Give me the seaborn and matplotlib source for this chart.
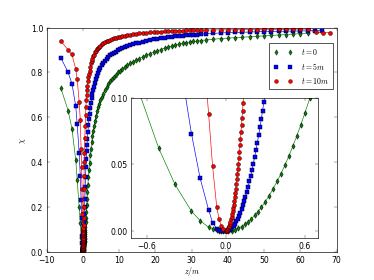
import matplotlib
matplotlib.use("Agg")
import matplotlib.pyplot as plt
import seaborn as sns
from matplotlib.lines import Line2D

# shared negative-z grid
z_neg = [-6.1, -4.1, -3.05, -2.0, -1.6, -1.05, -0.75, -0.51, -0.385, -0.26, -0.195,
         -0.13, -0.10, -0.068, -0.05, -0.035, -0.02]
chi_neg_t0 = [0.73, 0.63, 0.55, 0.41, 0.32, 0.20, 0.13, 0.0625, 0.035, 0.015, 0.008,
              0.003, 0.002, 0.001, 0.0005, 0.0003, 0.0001]
chi_neg_t5 = [0.865, 0.80, 0.75, 0.65, 0.57, 0.44, 0.34, 0.23, 0.15, 0.073, 0.040,
              0.016, 0.0065, 0.002, 0.001, 0.0005, 0.0002]
chi_neg_t10 = [0.94, 0.90, 0.88, 0.815, 0.77, 0.67, 0.59, 0.46, 0.38, 0.28, 0.17,
               0.088, 0.049, 0.018, 0.009, 0.004, 0.0015]

# fine grids near the minimum (differ per series)
z_in_t0 = [0, 0.02, 0.045, 0.07, 0.095, 0.12, 0.145, 0.17, 0.195, 0.22,
           0.245, 0.27, 0.30, 0.33, 0.36, 0.39, 0.42, 0.45, 0.48, 0.51,
           0.54, 0.57, 0.60, 0.64, 0.68, 0.75]
chi_in_t0 = [0, 0.0001, 0.0005, 0.0012, 0.0022, 0.0035, 0.0052, 0.0071, 0.0093, 0.0119,
             0.0147, 0.0179, 0.0221, 0.0267, 0.0318, 0.0373, 0.0432, 0.0496, 0.0565, 0.0637,
             0.0714, 0.0796, 0.0882, 0.100, 0.113, 0.135]

z_in_t5 = [0, 0.01, 0.02, 0.03, 0.04, 0.05, 0.06, 0.07, 0.08, 0.09,
           0.10, 0.11, 0.12, 0.13, 0.14, 0.15, 0.16, 0.17, 0.18, 0.19,
           0.20, 0.21, 0.22, 0.23, 0.24, 0.25, 0.26, 0.27, 0.28, 0.29, 0.30,
           0.32, 0.35, 0.40, 0.45, 0.50, 0.60, 0.70]
chi_in_t5 = [0, 0.0001, 0.0005, 0.001, 0.0018, 0.0029, 0.0041, 0.0056, 0.0074, 0.0093,
             0.0115, 0.0139, 0.0166, 0.0194, 0.0225, 0.0259, 0.0294, 0.0332, 0.0373, 0.0415,
             0.046, 0.0507, 0.0557, 0.0608, 0.0662, 0.0719, 0.0777, 0.0838, 0.0902, 0.0967,
             0.1035, 0.117, 0.137, 0.168, 0.20, 0.235, 0.29, 0.335]

z_in_t10 = [0, 0.004, 0.008, 0.012, 0.016, 0.02, 0.024, 0.028, 0.032, 0.036,
            0.04, 0.044, 0.048, 0.052, 0.056, 0.06, 0.064, 0.068, 0.072, 0.076,
            0.08, 0.084, 0.088, 0.092, 0.096, 0.1, 0.104, 0.108, 0.112, 0.116,
            0.12, 0.124, 0.128, 0.132, 0.136, 0.14,
            0.15, 0.17, 0.2, 0.25, 0.3, 0.35, 0.4, 0.5, 0.6, 0.7]
chi_in_t10 = [0, 0.0001, 0.0004, 0.0008, 0.0014, 0.0022, 0.0032, 0.0043, 0.0056, 0.0071,
              0.0088, 0.0106, 0.0127, 0.0149, 0.0172, 0.0198, 0.0225, 0.0254, 0.0285, 0.0318,
              0.0352, 0.0388, 0.0426, 0.0466, 0.0507, 0.055, 0.0595, 0.0642, 0.069, 0.074,
              0.0792, 0.0846, 0.0901, 0.0958, 0.1017, 0.1078,
              0.12, 0.15, 0.20, 0.28, 0.34, 0.40, 0.44, 0.51, 0.56, 0.61]

# shared outer grid
z_out = [0.8, 0.9, 1.0, 1.1, 1.2, 1.35, 1.5, 1.65, 1.8, 2.0,
         2.2, 2.4, 2.6, 2.8, 3.0, 3.3, 3.6, 3.9, 4.2, 4.5,
         4.8, 5.2, 5.6, 6.0, 6.5, 7.0, 7.5, 8.0, 8.5, 9.0,
         9.6, 10.2, 10.8, 11.5, 12.2, 13.0, 13.8, 14.6, 15.5, 16.5,
         17.5, 18.5, 19.5, 20.5, 21.5, 22.5, 23.5, 24.5, 25.5, 26.5,
         27.5, 28.5, 29.5, 30.5, 31.5, 32.5, 34, 36, 38, 40,
         42, 44, 46, 48, 50, 52, 54, 56, 58, 60, 62]
chi_out_t0 = [0.15, 0.18, 0.21, 0.238, 0.265, 0.30, 0.335, 0.365, 0.395, 0.43,
              0.46, 0.49, 0.515, 0.54, 0.56, 0.585, 0.608, 0.63, 0.645, 0.66,
              0.675, 0.69, 0.705, 0.72, 0.733, 0.747, 0.76, 0.77, 0.78, 0.79,
              0.80, 0.808, 0.816, 0.824, 0.832, 0.84, 0.848, 0.855, 0.862, 0.87,
              0.877, 0.884, 0.89, 0.896, 0.902, 0.908, 0.913, 0.918, 0.922, 0.926,
              0.93, 0.933, 0.936, 0.938, 0.940, 0.942, 0.945, 0.948, 0.951, 0.953,
              0.955, 0.957, 0.959, 0.961, 0.963, 0.965, 0.967, 0.969, 0.971, 0.973, 0.975]
chi_out_t5 = [0.38, 0.415, 0.45, 0.477, 0.502, 0.535, 0.565, 0.592, 0.615, 0.64,
              0.665, 0.685, 0.703, 0.72, 0.735, 0.755, 0.77, 0.785, 0.798, 0.81,
              0.82, 0.833, 0.843, 0.852, 0.861, 0.869, 0.877, 0.883, 0.888, 0.893,
              0.898, 0.903, 0.907, 0.912, 0.916, 0.921, 0.925, 0.929, 0.933, 0.937,
              0.941, 0.944, 0.947, 0.950, 0.952, 0.955, 0.957, 0.959, 0.961, 0.963,
              0.964, 0.966, 0.967, 0.968, 0.969, 0.970, 0.972, 0.974, 0.976, 0.977,
              0.978, 0.979, 0.980, 0.981, 0.982, 0.982, 0.983, 0.984, 0.984, 0.985, 0.985]
chi_out_t10 = [0.645, 0.675, 0.70, 0.72, 0.74, 0.762, 0.78, 0.795, 0.808, 0.825,
               0.84, 0.852, 0.862, 0.871, 0.879, 0.889, 0.897, 0.904, 0.91, 0.915,
               0.92, 0.925, 0.93, 0.934, 0.938, 0.942, 0.946, 0.949, 0.952, 0.955,
               0.958, 0.96, 0.962, 0.964, 0.966, 0.968, 0.970, 0.972, 0.974, 0.976,
               0.977, 0.979, 0.980, 0.981, 0.982, 0.983, 0.984, 0.985, 0.985, 0.986,
               0.986, 0.987, 0.987, 0.988, 0.988, 0.988, 0.989, 0.989, 0.990, 0.990,
               0.990, 0.991, 0.991, 0.991, 0.992, 0.992, 0.992, 0.992, 0.993, 0.993, 0.993]

# tails beyond the shared grid
z_tail_t5 = [64, 66]
chi_tail_t5 = [0.986, 0.986]
z_tail_t10 = [64.3, 66.2, 68.3]
chi_tail_t10 = [0.978, 0.977, 0.977]

labels = ["$t=0$", "$t=5m$", "$t=10m$"]
colors = ["g", "b", "r"]
markers = ["d", "s", "o"]

series = [
    (z_neg + z_in_t0 + z_out, chi_neg_t0 + chi_in_t0 + chi_out_t0),
    (z_neg + z_in_t5 + z_out + z_tail_t5, chi_neg_t5 + chi_in_t5 + chi_out_t5 + chi_tail_t5),
    (z_neg + z_in_t10 + z_out + z_tail_t10, chi_neg_t10 + chi_in_t10 + chi_out_t10 + chi_tail_t10),
]

plt.rcParams.update({
    "font.family": "DejaVu Sans",
    "font.size": 12,
    "mathtext.fontset": "cm",
    "xtick.direction": "in",
    "ytick.direction": "in",
    "xtick.top": True,
    "ytick.right": True,
    "xtick.major.size": 4,
    "ytick.major.size": 4,
    "xtick.major.width": 0.5,
    "ytick.major.width": 0.5,
    "xtick.major.pad": 5,
    "ytick.major.pad": 5.5,
    "axes.linewidth": 1.0,
    "axes.edgecolor": "black",
})

fig = plt.figure(figsize=(8, 6), dpi=46.75)
ax = fig.add_axes([0.125, 0.1, 0.775, 0.8])
axin = fig.add_axes([0.35, 0.15, 0.5, 0.5])

for a in (ax, axin):
    for (zz, cc), col, mk in zip(series, colors, markers):
        sns.lineplot(x=zz, y=cc, ax=a, color=col, marker=mk, markersize=6,
                     markeredgecolor="k", markeredgewidth=0.7, linewidth=1,
                     estimator=None, sort=False, legend=False)

ax.set_xlim(-10, 70)
ax.set_ylim(0, 1)
ax.set_xticks([-10, 0, 10, 20, 30, 40, 50, 60, 70])
ax.set_yticks([0.0, 0.2, 0.4, 0.6, 0.8, 1.0])
ax.set_xlabel("$z/m$", labelpad=0)
ax.set_ylabel("$\\chi$")

handles = [Line2D([], [], ls="none", marker=mk, color=col, mec="k", mew=0.5, ms=6)
           for col, mk in zip(colors, markers)]
leg = ax.legend(handles, labels, numpoints=2, loc="upper right",
                bbox_to_anchor=(0.986, 0.933), borderaxespad=0, fancybox=False,
                edgecolor="k", framealpha=1, handlelength=2.5, handletextpad=1.0,
                labelspacing=0.5, borderpad=0.5)
leg.get_frame().set_linewidth(1.0)

axin.set_xlim(-0.72, 0.7)
axin.set_ylim(-0.005, 0.1)
axin.set_xticks([-0.6, 0.0, 0.6])
axin.set_yticks([0.0, 0.05, 0.1])
axin.set_yticklabels(["0.00", "0.05", "0.10"])
axin.set_xlabel("")
axin.set_ylabel("")

fig.savefig("out.png", dpi=46.75)
